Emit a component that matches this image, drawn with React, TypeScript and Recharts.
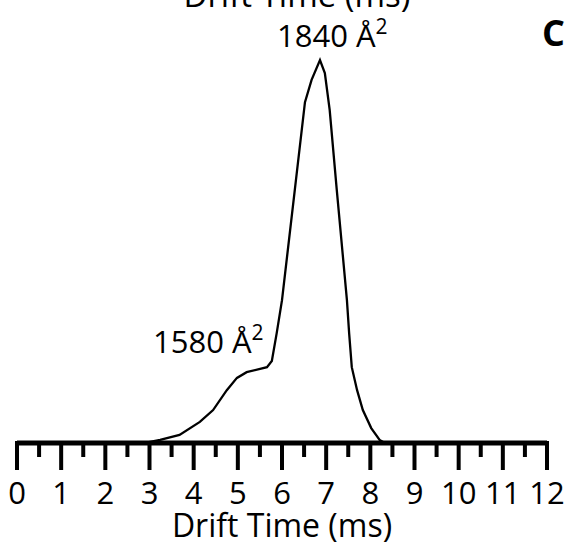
import { LineChart, Line, XAxis, YAxis, Customized } from "recharts";

// drift time (ms) and relative intensity (%)
const driftTime = [
  2.9, 3.24, 3.68, 4.14, 4.44, 4.75, 4.98, 5.2, 5.66, 5.77, 5.88, 6.0, 6.29,
  6.52, 6.67, 6.86, 6.97, 7.08, 7.24, 7.47, 7.52, 7.58, 7.7, 7.83, 8.02, 8.21,
  8.33,
];
const intensity = [
  0, 0.8, 2.1, 5.5, 8.6, 13.8, 17.0, 18.5, 19.8, 21.4, 28.7, 37.3, 66.1, 89.0,
  94.8, 100, 96.6, 86.9, 66.1, 37.3, 28.7, 19.8, 13.8, 8.6, 3.9, 0.8, 0,
];

const majorTicks = [0, 1, 2, 3, 4, 5, 6, 7, 8, 9, 10, 11, 12];
const minorTicks = [0.5, 1.5, 2.5, 3.5, 4.5, 5.5, 6.5, 7.5, 8.5, 9.5, 10.5, 11.5];

const peakLabels = [
  { text: "1840 Å", sup: "2", x: 277, y: 47 },
  { text: "1580 Å", sup: "2", x: 153, y: 353 },
];

const data = driftTime.map((t, i) => ({ t, v: intensity[i] }));
const allTicks = [...majorTicks, ...minorTicks].sort((a, b) => a - b);
const font = "'Open Sans', sans-serif";

function RulerTick(props: any) {
  const { x, y, payload } = props;
  const major = majorTicks.includes(payload.value);
  return (
    <g>
      <line
        x1={x}
        x2={x}
        y1={y - 2}
        y2={y + (major ? 27 : 14)}
        stroke="#000"
        strokeWidth={4}
      />
      {major && (
        <text
          x={x}
          y={y + 61}
          textAnchor="middle"
          fontSize={31}
          fontFamily={font}
          fill="#000"
        >
          {payload.value}
        </text>
      )}
    </g>
  );
}

function Annotations() {
  return (
    <g fontFamily={font} fill="#000">
      <text x={297} y={7} textAnchor="middle" fontSize={33}>
        Drift Time (ms)
      </text>
      {peakLabels.map((l) => (
        <text key={l.text + l.y} x={l.x} y={l.y} fontSize={31}>
          {l.text}
          <tspan fontSize={21} dy={-13}>
            {l.sup}
          </tspan>
        </text>
      ))}
      <text x={542} y={46} fontSize={36} fontWeight="bold">
        C
      </text>
    </g>
  );
}

export default function App() {
  return (
    <div style={{ position: "absolute", left: 0, top: 0, background: "#fff" }}>
      <LineChart
        width={570}
        height={547}
        data={data}
        margin={{ top: 60, right: 23, left: 17, bottom: 0 }}
      >
        <XAxis
          type="number"
          dataKey="t"
          domain={[0, 12]}
          ticks={allTicks}
          interval={0}
          height={104}
          tickSize={0}
          tickMargin={0}
          tickLine={false}
          axisLine={{ stroke: "#000", strokeWidth: 5 }}
          tick={<RulerTick />}
          label={{
            value: "Drift Time (ms)",
            position: "insideBottom",
            offset: 10,
            fontSize: 32,
            fontFamily: font,
            fill: "#000",
          }}
        />
        <YAxis hide domain={[0, 100]} />
        <Line
          type="linear"
          dataKey="v"
          stroke="#000"
          strokeWidth={2.3}
          dot={false}
          isAnimationActive={false}
        />
        <Customized component={Annotations} />
      </LineChart>
    </div>
  );
}
